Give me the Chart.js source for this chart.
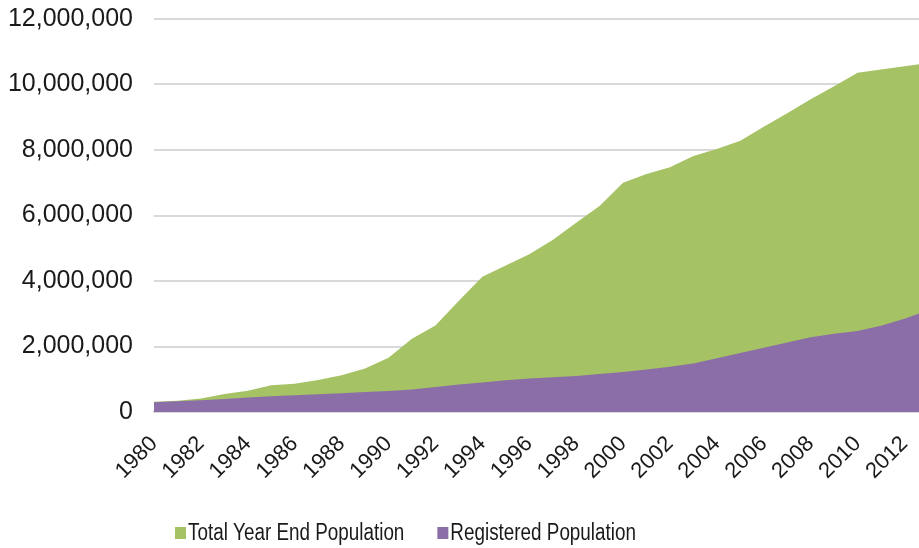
<!DOCTYPE html>
<html>
<head>
<meta charset="utf-8">
<script src="https://cdn.jsdelivr.net/npm/chart.js@4.4.1/dist/chart.umd.min.js"></script>
<style>
  html, body { margin: 0; padding: 0; background: #ffffff; overflow: hidden; }
  #wrap { position: relative; width: 919px; height: 548px; }
</style>
</head>
<body>
<div id="wrap"><canvas id="chart" width="919" height="548"></canvas></div>
<script>
// Year-end population figures, 1980–2013
const years = [
  1980, 1981, 1982, 1983, 1984, 1985, 1986, 1987, 1988, 1989,
  1990, 1991, 1992, 1993, 1994, 1995, 1996, 1997, 1998, 1999,
  2000, 2001, 2002, 2003, 2004, 2005, 2006, 2007, 2008, 2009,
  2010, 2011, 2012, 2013
];

const totalPopulation = [
  310000, 345000, 410000, 550000, 650000, 820000, 860000, 980000, 1120000, 1330000,
  1660000, 2240000, 2640000, 3400000, 4130000, 4470000, 4820000, 5250000, 5780000, 6290000,
  7000000, 7270000, 7470000, 7820000, 8030000, 8280000, 8710000, 9120000, 9550000, 9950000,
  10360000, 10460000, 10560000, 10650000
];

const registeredPopulation = [
  300000, 330000, 360000, 400000, 440000, 480000, 510000, 540000, 570000, 610000,
  640000, 690000, 760000, 840000, 900000, 970000, 1020000, 1060000, 1100000, 1160000,
  1220000, 1300000, 1380000, 1480000, 1640000, 1800000, 1960000, 2120000, 2280000, 2390000,
  2470000, 2630000, 2850000, 3100000
];

const seriesNames = ['Total Year End Population', 'Registered Population'];
const seriesColors = ['#A5C264', '#8B6EA7'];

const yTicks = { min: 0, max: 12000000, step: 2000000 };
const xTicks = { min: 1980, max: 2012.62, step: 2 };

const toPoints = (values) => years.map((yr, i) => ({ x: yr, y: values[i] }));

// Legend drawn below the plot: small square swatch followed by a condensed series name
const bottomLegend = {
  id: 'bottomLegend',
  afterDraw(chart) {
    const ctx = chart.ctx;
    const area = chart.chartArea;
    const squeeze = 0.82;
    ctx.save();
    ctx.font = "23px 'Liberation Sans', Arial, sans-serif";
    ctx.textBaseline = 'middle';
    ctx.textAlign = 'left';
    const cy = 533;
    let x = area.left + 21;
    chart.data.datasets.forEach((ds) => {
      ctx.fillStyle = ds.backgroundColor;
      ctx.fillRect(x, cy - 6, 11, 12);
      x += 13;
      ctx.save();
      ctx.translate(x, cy + 1);
      ctx.scale(squeeze, 1);
      ctx.fillStyle = '#1a1a1a';
      ctx.fillText(ds.label, 0, 0);
      ctx.restore();
      x += ctx.measureText(ds.label).width * squeeze + 33;
    });
    ctx.restore();
  }
};

new Chart(document.getElementById('chart'), {
  type: 'line',
  data: {
    datasets: [
      {
        label: seriesNames[0],
        data: toPoints(totalPopulation),
        backgroundColor: seriesColors[0],
        borderWidth: 0,
        pointRadius: 0,
        fill: 'origin',
        tension: 0,
        order: 2
      },
      {
        label: seriesNames[1],
        data: toPoints(registeredPopulation),
        backgroundColor: seriesColors[1],
        borderWidth: 0,
        pointRadius: 0,
        fill: 'origin',
        tension: 0,
        order: 1
      }
    ]
  },
  options: {
    responsive: false,
    animation: false,
    events: [],
    layout: { padding: { top: 19, left: 7, right: 0, bottom: 0 } },
    plugins: {
      legend: { display: false },
      tooltip: { enabled: false }
    },
    scales: {
      x: {
        type: 'linear',
        min: xTicks.min,
        max: xTicks.max,
        afterFit(scale) {
          scale.height = 136;
          scale.paddingLeft = 0;
          scale.paddingRight = 0;
        },
        ticks: {
          stepSize: xTicks.step,
          includeBounds: false,
          autoSkip: false,
          minRotation: 45,
          maxRotation: 45,
          padding: 19,
          color: '#1a1a1a',
          font: { family: "'Liberation Sans', Arial, sans-serif", size: 22 },
          callback: (v) => String(v)
        },
        grid: { display: false, drawTicks: false },
        border: { display: true, color: '#D9D9D9', width: 2 }
      },
      y: {
        min: yTicks.min,
        max: yTicks.max,
        afterFit(scale) {
          scale.width = 147;
          scale.paddingTop = 0;
          scale.paddingBottom = 0;
        },
        ticks: {
          stepSize: yTicks.step,
          padding: 21,
          color: '#1a1a1a',
          font: { family: "'Liberation Sans', Arial, sans-serif", size: 25 },
          callback: (v) => v.toLocaleString('en-US')
        },
        grid: { color: '#D9D9D9', lineWidth: 2, drawTicks: false },
        border: { display: false }
      }
    }
  },
  plugins: [bottomLegend]
});
</script>
</body>
</html>
